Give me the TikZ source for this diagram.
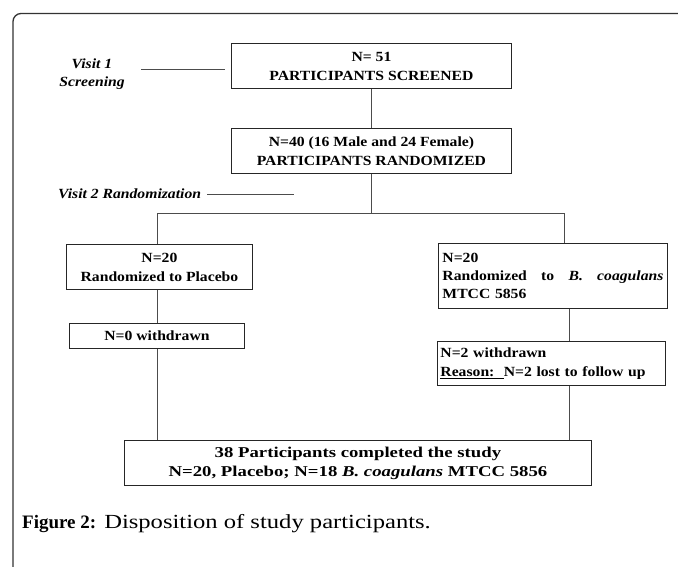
\documentclass[tikz,border=0pt]{standalone}
\usepackage{fontspec}
\setmainfont{Liberation Serif}
\newfontfamily\bxfont[FakeStretch=1.12]{Liberation Serif}
\newfontfamily\bxwide[FakeStretch=1.25]{Liberation Serif}
\newfontfamily\capfont[FakeStretch=1.23]{Liberation Serif}
\begin{document}
\begin{tikzpicture}[x=1pt,y=-1pt,
  box/.style={draw=black!85, line width=0.9pt, inner sep=0pt, align=center,
    font=\bxfont\bfseries\fontsize{14}{19}\selectfont, anchor=north west},
  conn/.style={draw=black!70, line width=0.8pt},
  lbl/.style={font=\bxfont\bfseries\itshape\fontsize{14}{18}\selectfont, inner sep=0pt, align=center}]
\useasboundingbox (0,0) rectangle (678,567);
\draw[black!80, line width=1.3pt, rounded corners=8pt] (13,570) -- (13,13.5) -- (681,13.5);

\node[box, minimum width=280pt, minimum height=45pt] (b1) at (231,43)
  {N= 51\\PARTICIPANTS SCREENED};
\node[box, minimum width=280pt, minimum height=45pt] (b2) at (231,128)
  {N=40 (16 Male and 24 Female)\\PARTICIPANTS RANDOMIZED};
\node[box, minimum width=186pt, minimum height=45pt] (b3) at (66,244)
  {N=20\\Randomized to Placebo};
\node[box, minimum width=229pt, minimum height=65pt, align=left, text width=221pt,
  font=\bxfont\bfseries\fontsize{14}{18}\selectfont] (b4) at (438,243)
  {N=20\\\makebox[221pt][l]{Randomized\hfill to\hfill\textit{B.}\hfill\textit{coagulans}}\\MTCC 5856};
\node[box, minimum width=175pt, minimum height=25pt] (b5) at (69,323)
  {N=0 withdrawn};
\node[box, minimum width=228pt, minimum height=44pt, align=left, text width=222pt] (b6) at (437,341)
  {N=2 withdrawn\\\underline{Reason:\ \ }N=2 lost to follow up};
\node[box, minimum width=467pt, minimum height=45pt,
  font=\bxwide\bfseries\fontsize{15}{19}\selectfont] (b7) at (124,440)
  {38 Participants completed the study\\N=20, Placebo; N=18 \textit{B. coagulans} MTCC 5856};

\node[lbl] (v1) at (92,74) {Visit 1\\Screening};
\node[lbl, anchor=west] (v2) at (58,194) {Visit 2 Randomization};
\coordinate (v1a) at (141,69);
\coordinate (v1b) at (225,69);
\coordinate (v2a) at (207,194);
\coordinate (v2b) at (294,194);
\draw[conn] (v1a) -- (v1b);
\draw[conn] (v2a) -- (v2b);

\coordinate (sp) at (371,213);
\coordinate (lc) at (157,213);
\coordinate (rc) at (564,213);
\coordinate (rx) at (569,0);

\draw[conn] (b1.south -| sp) -- (b2.north -| sp);
\draw[conn] (b2.south -| sp) -- (sp);
\draw[conn] (lc |- b3.north) -- (lc) -- (rc) -- (rc |- b4.north);
\draw[conn] (lc |- b3.south) -- (lc |- b5.north);
\draw[conn] (lc |- b5.south) -- (lc |- b7.north);
\draw[conn] (rx |- b4.south) -- (rx |- b6.north);
\draw[conn] (rx |- b6.south) -- (rx |- b7.north);

\node[anchor=base west, inner sep=0pt, font=\fontsize{19}{22}\selectfont] (cap) at (22,528)
  {\textbf{Figure 2:}\hspace{8pt}{\capfont\fontsize{20}{22}\selectfont Disposition of study participants.}};
\end{tikzpicture}
\end{document}
